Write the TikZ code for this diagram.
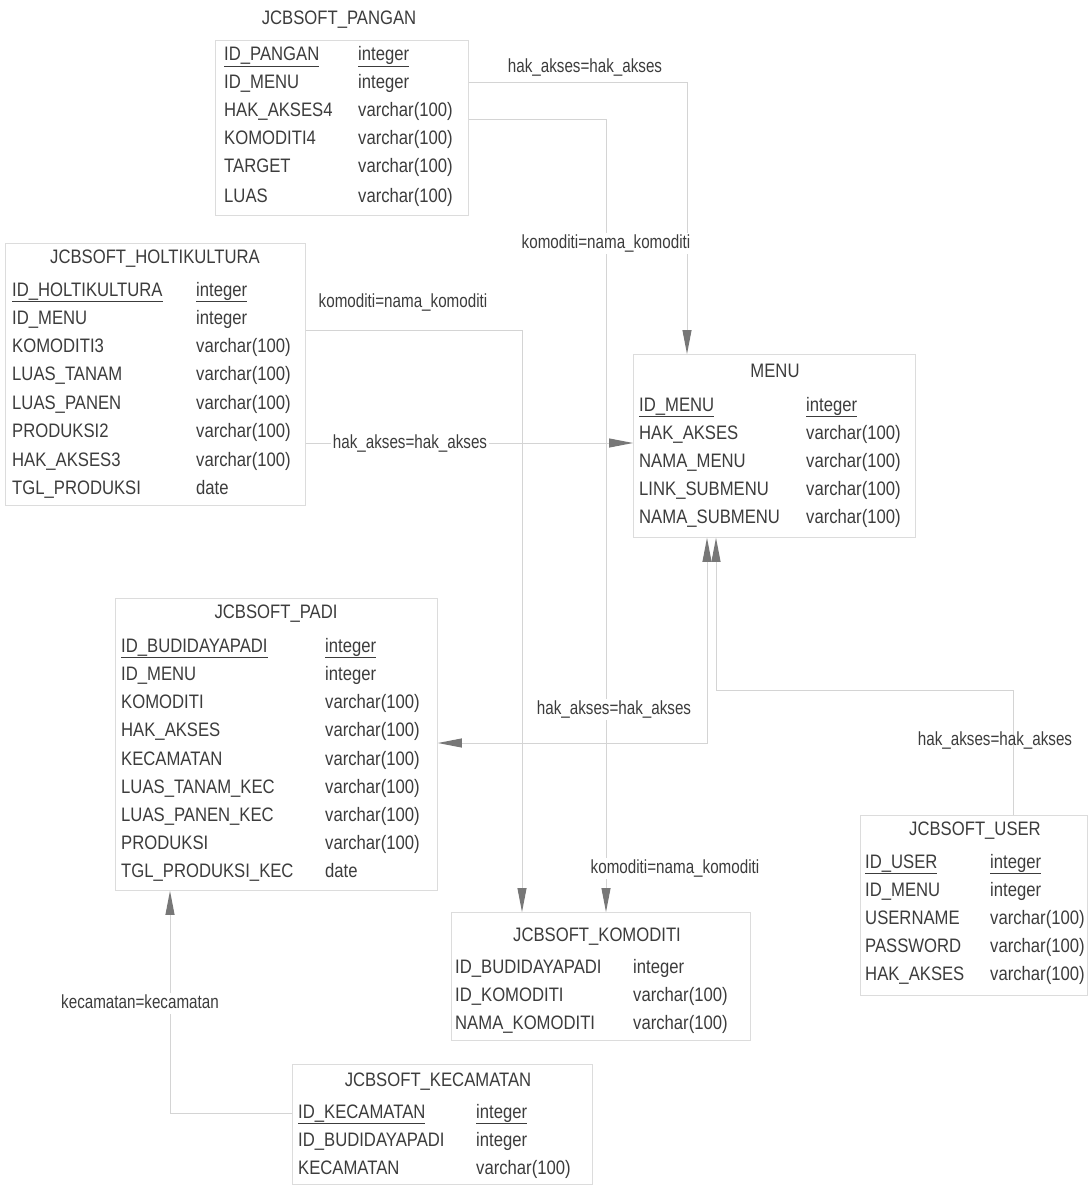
\documentclass[tikz,border=0pt]{standalone}
\usepackage{fontspec}
\setmainfont{Liberation Sans}[FakeStretch=0.855]
\newfontfamily\lblfont{Liberation Sans}[FakeStretch=0.8]
\usetikzlibrary{arrows.meta}

\definecolor{ink}{HTML}{3C3C3C}
\definecolor{frameln}{HTML}{DCDCDC}
\definecolor{linkln}{HTML}{D4D4D4}
\definecolor{tipcol}{HTML}{777777}

\tikzset{
  every node/.style={font=\fontsize{19.5}{22}\selectfont, text=ink, inner sep=0pt,
                     text height=14pt, text depth=4pt},
  frame/.style={draw=frameln, line width=0.9pt, anchor=north west,
                text height=, text depth=},
  ttl/.style={anchor=center},
  col/.style={anchor=west},
  lbl/.style={font=\lblfont\fontsize{19}{22}\selectfont, fill=white, inner sep=1.5pt},
  link/.style={draw=linkln, line width=1pt},
  fk/.style={-{Triangle[length=24pt,width=9pt,color=tipcol]}},
  fkboth/.style={{Triangle[length=24pt,width=9pt,color=tipcol]}-{Triangle[length=24pt,width=9pt,color=tipcol]}},
}

\begin{document}
\begin{tikzpicture}[x=1pt,y=-1pt]
\useasboundingbox[fill=white] (0,0) rectangle (1091,1185);

% ---------- table frames ----------
\node[frame, minimum width=253, minimum height=175] (pangan)    at (215,40)  {};
\node[frame, minimum width=300, minimum height=262] (holti)     at (5,243)   {};
\node[frame, minimum width=282, minimum height=183] (menu)      at (633,354) {};
\node[frame, minimum width=322, minimum height=292] (padi)      at (115,598) {};
\node[frame, minimum width=299, minimum height=128] (komoditi)  at (451,912) {};
\node[frame, minimum width=227, minimum height=180] (user)      at (860,815) {};
\node[frame, minimum width=300, minimum height=120] (kecamatan) at (292,1064) {};

% ---------- JCBSOFT_PANGAN ----------
\node[ttl] (panganT) at (339,20) {JCBSOFT\_PANGAN};
\node[col] (p1a) at (224,56)  {\underline{ID\_PANGAN}};
\node[col] (p1b) at (358,56)  {\underline{integer}};
\node[col] (p2a) at (224,84)  {ID\_MENU};
\node[col] (p2b) at (358,84)  {integer};
\node[col] (p3a) at (224,112) {HAK\_AKSES4};
\node[col] (p3b) at (358,112) {varchar(100)};
\node[col] (p4a) at (224,140) {KOMODITI4};
\node[col] (p4b) at (358,140) {varchar(100)};
\node[col] (p5a) at (224,168) {TARGET};
\node[col] (p5b) at (358,168) {varchar(100)};
\node[col] (p6a) at (224,197) {LUAS};
\node[col] (p6b) at (358,197) {varchar(100)};

% ---------- JCBSOFT_HOLTIKULTURA ----------
\node[ttl] (holtiT) at (155,258) {JCBSOFT\_HOLTIKULTURA};
\node[col] (h1a) at (12,291)  {\underline{ID\_HOLTIKULTURA}};
\node[col] (h1b) at (196,291) {\underline{integer}};
\node[col] (h2a) at (12,319)  {ID\_MENU};
\node[col] (h2b) at (196,319) {integer};
\node[col] (h3a) at (12,347)  {KOMODITI3};
\node[col] (h3b) at (196,347) {varchar(100)};
\node[col] (h4a) at (12,375)  {LUAS\_TANAM};
\node[col] (h4b) at (196,375) {varchar(100)};
\node[col] (h5a) at (12,404)  {LUAS\_PANEN};
\node[col] (h5b) at (196,404) {varchar(100)};
\node[col] (h6a) at (12,432)  {PRODUKSI2};
\node[col] (h6b) at (196,432) {varchar(100)};
\node[col] (h7a) at (12,461)  {HAK\_AKSES3};
\node[col] (h7b) at (196,461) {varchar(100)};
\node[col] (h8a) at (12,489)  {TGL\_PRODUKSI};
\node[col] (h8b) at (196,489) {date};

% ---------- MENU ----------
\node[ttl] (menuT) at (775,372) {MENU};
\node[col] (m1a) at (639,406) {\underline{ID\_MENU}};
\node[col] (m1b) at (806,406) {\underline{integer}};
\node[col] (m2a) at (639,434) {HAK\_AKSES};
\node[col] (m2b) at (806,434) {varchar(100)};
\node[col] (m3a) at (639,462) {NAMA\_MENU};
\node[col] (m3b) at (806,462) {varchar(100)};
\node[col] (m4a) at (639,490) {LINK\_SUBMENU};
\node[col] (m4b) at (806,490) {varchar(100)};
\node[col] (m5a) at (639,518) {NAMA\_SUBMENU};
\node[col] (m5b) at (806,518) {varchar(100)};

% ---------- JCBSOFT_PADI ----------
\node[ttl] (padiT) at (276,613) {JCBSOFT\_PADI};
\node[col] (d1a) at (121,647) {\underline{ID\_BUDIDAYAPADI}};
\node[col] (d1b) at (325,647) {\underline{integer}};
\node[col] (d2a) at (121,675) {ID\_MENU};
\node[col] (d2b) at (325,675) {integer};
\node[col] (d3a) at (121,703) {KOMODITI};
\node[col] (d3b) at (325,703) {varchar(100)};
\node[col] (d4a) at (121,731) {HAK\_AKSES};
\node[col] (d4b) at (325,731) {varchar(100)};
\node[col] (d5a) at (121,760) {KECAMATAN};
\node[col] (d5b) at (325,760) {varchar(100)};
\node[col] (d6a) at (121,788) {LUAS\_TANAM\_KEC};
\node[col] (d6b) at (325,788) {varchar(100)};
\node[col] (d7a) at (121,816) {LUAS\_PANEN\_KEC};
\node[col] (d7b) at (325,816) {varchar(100)};
\node[col] (d8a) at (121,844) {PRODUKSI};
\node[col] (d8b) at (325,844) {varchar(100)};
\node[col] (d9a) at (121,872) {TGL\_PRODUKSI\_KEC};
\node[col] (d9b) at (325,872) {date};

% ---------- JCBSOFT_KOMODITI ----------
\node[ttl] (komT) at (597,936) {JCBSOFT\_KOMODITI};
\node[col] (k1a) at (455,968)  {ID\_BUDIDAYAPADI};
\node[col] (k1b) at (633,968)  {integer};
\node[col] (k2a) at (455,996)  {ID\_KOMODITI};
\node[col] (k2b) at (633,996)  {varchar(100)};
\node[col] (k3a) at (455,1024) {NAMA\_KOMODITI};
\node[col] (k3b) at (633,1024) {varchar(100)};

% ---------- JCBSOFT_USER ----------
\node[ttl] (userT) at (975,830) {JCBSOFT\_USER};
\node[col] (u1a) at (865,863) {\underline{ID\_USER}};
\node[col] (u1b) at (990,863) {\underline{integer}};
\node[col] (u2a) at (865,891) {ID\_MENU};
\node[col] (u2b) at (990,891) {integer};
\node[col] (u3a) at (865,919) {USERNAME};
\node[col] (u3b) at (990,919) {varchar(100)};
\node[col] (u4a) at (865,947) {PASSWORD};
\node[col] (u4b) at (990,947) {varchar(100)};
\node[col] (u5a) at (865,975) {HAK\_AKSES};
\node[col] (u5b) at (990,975) {varchar(100)};

% ---------- JCBSOFT_KECAMATAN ----------
\node[ttl] (kecT) at (438,1081) {JCBSOFT\_KECAMATAN};
\node[col] (c1a) at (298,1113) {\underline{ID\_KECAMATAN}};
\node[col] (c1b) at (476,1113) {\underline{integer}};
\node[col] (c2a) at (298,1141) {ID\_BUDIDAYAPADI};
\node[col] (c2b) at (476,1141) {integer};
\node[col] (c3a) at (298,1169) {KECAMATAN};
\node[col] (c3b) at (476,1169) {varchar(100)};

% ---------- references ----------
\coordinate (bA)  at (687,83);
\coordinate (bB)  at (606,120);
\coordinate (bC)  at (522,330);
\coordinate (bD)  at (0,443);
\coordinate (bE)  at (707,743);
\coordinate (bF1) at (1013,690);
\coordinate (bF2) at (716,690);
\coordinate (bG)  at (170,1113);

\draw[link,fk] (pangan.east |- bA) -- (bA) -- (menu.north -| bA);
\draw[link,fk] (pangan.east |- bB) -- (bB) -- (komoditi.north -| bB);
\draw[link,fk] (holti.east |- bC) -- (bC) -- (komoditi.north -| bC);
\draw[link,fk] (holti.east |- bD) -- (menu.west |- bD);
\draw[link,fkboth] (padi.east |- bE) -- (bE) -- (menu.south -| bE);
\draw[link,fk] (user.north -| bF1) -- (bF1) -- (bF2) -- (menu.south -| bF2);
\draw[link,fk] (kecamatan.west |- bG) -- (bG) -- (padi.south -| bG);

% ---------- reference labels ----------
\node[lbl] (lA) at (585,68)   {hak\_akses=hak\_akses};
\node[lbl] (lB) at (606,243)  {komoditi=nama\_komoditi};
\node[lbl] (lC) at (403,302)  {komoditi=nama\_komoditi};
\node[lbl] (lD) at (410,443)  {hak\_akses=hak\_akses};
\node[lbl] (lE) at (614,709)  {hak\_akses=hak\_akses};
\node[lbl, fill=none] (lF) at (995,740) {hak\_akses=hak\_akses};
\node[lbl] (lK) at (675,868)  {komoditi=nama\_komoditi};
\node[lbl] (lG) at (140,1003) {kecamatan=kecamatan};
\end{tikzpicture}
\end{document}
